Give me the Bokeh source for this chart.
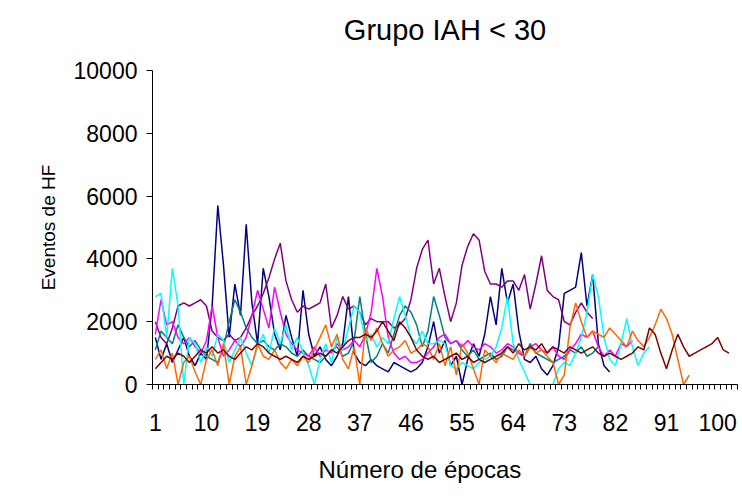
from bokeh.plotting import figure
from bokeh.models import Range1d, FixedTicker, Title
from bokeh.embed import file_html
from bokeh.resources import INLINE

# ---- data ----
navy = [1500, 800, 1300, 700, 1100, 1500, 900, 600, 1000, 800, 2500, 5700, 3800, 1500, 3200, 2200,
        5100, 2600, 1300, 3700, 2800, 1600, 1100, 2200, 1500, 900, 3000, 1600, 900, 1200, 800, 600,
        900, 1300, 2800, 1000, 700, 600, 800, 600, 500, 400, 700, 600, 500, 400, 500, 700, 1200,
        2000, 1000, 1400, 600, 900, 0, 800, 1300, 900, 1600, 2800, 1900, 3700, 2600, 3200, 1700,
        800, 700, 900, 500, 300, 600, 1200, 2900, 3000, 3100, 4200, 2500, 3500, 1300, 600, 400]

purple = [2000, 1500, 1300, 1800, 2500, 2600, 2500, 2600, 2700, 2500, 1700, 1500, 1400, 1600,
          1400, 1500, 1800, 2200, 2500, 2900, 3400, 4000, 4500, 3300, 2700, 2300, 2500, 2400,
          2500, 2600, 3200, 1800, 2200, 2800, 2400, 2500, 2300, 1900, 2100, 2000, 2000, 2000,
          1800, 1900, 2100, 2700, 3700, 4300, 4600, 3200, 3700, 2800, 2000, 2600, 3800, 4400,
          4800, 4600, 3600, 3200, 3200, 3100, 3300, 3300, 3000, 3500, 2400, 3200, 4100, 3000,
          2800, 2700, 2000, 1900, 2300, 2600, 2300, 2100]

cyan = [2800, 2900, 1500, 3700, 2500, 0, 1500, 1300, 700, 1200, 900, 1600, 1400, 700, 1100, 1500,
        1000, 600, 1200, 1600, 1000, 1800, 1300, 1900, 1100, 1500, 1000, 600, 0, 800, 1300, 700,
        1500, 1100, 1800, 2500, 2300, 1400, 1600, 1200, 1500, 1300, 2100, 2800, 2200, 1500, 1300,
        1700, 1300, 1300, 1400, 1300, 600, 500, 700, 600, 500, 700, 800, 900, 1200, 1800, 2800,
        1300, 800, 400, 0, 0, 0, 0, 0, 500, 700, 600, 1000, 1500, 2300, 3500, 2800, 1500, 800, 600,
        1300, 2100, 1200, 600, 1000, 1200]

teal = [1100, 1700, 1500, 1300, 1900, 1500, 1200, 1400, 1100, 900, 800, 700, 1200, 2000, 2700,
        2300, 1800, 1500, 1300, 1400, 1200, 1100, 1300, 1200, 1000, 900, 1100, 900, 800, 700, 900,
        1100, 1200, 900, 1000, 1400, 2800, 1600, 700, 900, 1300, 1000, 1600, 2200, 2500, 2300,
        1900, 1200, 1700, 2800, 2200, 1500, 1300, 1400, 1100, 900, 1100, 800, 900, 1000, 800, 900,
        1200, 1100, 1000, 900, 1300, 1000, 900, 800, 700, 800, 900, 1100, 1000, 1200, 900, 1000,
        1200]

magenta = [1600, 2700, 1900, 2000, 1500, 1300, 1500, 1200, 1000, 1400, 2500, 1500, 900, 1100,
           1400, 1200, 1500, 2200, 3000, 2400, 1800, 3100, 2300, 1600, 1300, 1100, 1000, 900,
           1200, 900, 1100, 1000, 1300, 1100, 1200, 1400, 1200, 1600, 2300, 3700, 2800, 1500,
           1000, 800, 900, 700, 700, 800, 1000, 1200, 1500, 1600, 1300, 1400, 1200, 1400, 1200,
           1100, 1300, 1200, 1000, 1100, 1300, 1200, 1000, 900, 1200, 1300, 1100, 1000, 1200, 900,
           800, 1100, 1300, 1600, 1500, 1700, 1200, 900, 1100, 900, 1300, 1200, 1400]

orange = [800, 1100, 500, 1000, 0, 700, 900, 400, 0, 800, 1100, 600, 1300, 0, 900, 1200, 0, 600,
          1300, 900, 800, 1100, 700, 500, 800, 600, 900, 700, 1100, 1500, 1900, 1200, 1600, 800,
          500, 1200, 0, 1800, 1400, 1800, 1300, 900, 1100, 1200, 1400, 1000, 1100, 1300, 1200,
          800, 1300, 600, 1200, 300, 1300, 1000, 500, 0, 1100, 900, 700, 1000, 900, 800, 1100, 900,
          1200, 1000, 1100, 900, 700, 0, 300, 1800, 2600, 2000, 1500, 1700, 1600, 1500, 1800, 1600,
          1400, 1200, 1700, 1400, 1200, 1500, 1900, 2400, 2100, 1600, 800, 0, 300]

maroon = [500, 700, 900, 800, 1000, 900, 700, 900, 1100, 1000, 1200, 1000, 1100, 900, 800, 1000,
          1200, 1100, 1300, 1200, 1000, 900, 800, 900, 800, 700, 900, 800, 900, 1000, 900, 1100,
          1000, 1200, 1400, 1500, 1500, 1600, 1500, 1700, 2000, 1700, 1400, 2000, 1800, 1500, 1100,
          900, 800, 900, 700, 800, 900, 1000, 800, 900, 700, 800, 700, 800, 900, 1000, 1200, 1000,
          1300, 1100, 1200, 1100, 1300, 1000, 1200, 1100, 1000, 1200, 1100, 1000, 1100, 1200, 1000,
          900, 1000, 900, 800, 900, 1000, 1200, 1100, 1800, 1600, 1000, 500, 1100, 1600, 1200, 900,
          1000, 1100, 1200, 1300, 1500, 1100, 1000]

series = [
    (navy, "#000080"),
    (purple, "#800080"),
    (teal, "#008080"),
    (magenta, "#FF00FF"),
    (cyan, "#00FFFF"),
    (orange, "#FF6600"),
    (maroon, "#800000"),
]

x_labels = [1, 10, 19, 28, 37, 46, 55, 64, 73, 82, 91, 100]
y_ticks = [0, 2000, 4000, 6000, 8000, 10000]
n_cat = 103

FONT = "Liberation Sans"

p = figure(width=742, height=496, output_backend="svg", toolbar_location=None,
           x_range=Range1d(0.5, n_cat + 0.5), y_range=Range1d(0, 10000),
           min_border_left=152, min_border_right=5, min_border_top=70, min_border_bottom=112,
           title="Grupo IAH < 30")
p.outline_line_color = None
p.grid.visible = False
p.background_fill_color = "white"
p.border_fill_color = "white"

p.title.align = "center"
p.title.text_font = FONT
p.title.text_font_size = "29px"
p.title.text_font_style = "normal"
p.title.text_color = "black"
p.title.standoff = 0
p.title.padding = (0, 0, 0, 25)

for vals, col in series:
    xs = list(range(1, len(vals) + 1))
    p.line(xs, vals, line_color=col, line_width=1.5)

# y axis
ya = p.yaxis[0]
ya.ticker = FixedTicker(ticks=y_ticks)
ya.major_tick_out = 6
ya.major_tick_in = 0
ya.minor_tick_out = 0
ya.minor_tick_in = 0
ya.major_label_standoff = 9
ya.major_label_text_font = FONT
ya.major_label_text_font_size = "23px"
ya.major_label_text_color = "black"
ya.axis_label = "Eventos de HF"
ya.axis_label_text_font = FONT
ya.axis_label_text_font_size = "19px"
ya.axis_label_text_font_style = "normal"
ya.axis_label_text_color = "black"
ya.axis_label_standoff = 12
ya.axis_line_color = "black"

# x axis
xa = p.xaxis[0]
xa.ticker = FixedTicker(ticks=x_labels, minor_ticks=[k + 0.5 for k in range(0, n_cat + 1)])
xa.major_tick_out = 0
xa.major_tick_in = 0
xa.minor_tick_out = 5
xa.minor_tick_in = 0
xa.major_label_standoff = 24
xa.major_label_text_font = FONT
xa.major_label_text_font_size = "23px"
xa.major_label_text_color = "black"
xa.axis_line_color = "black"

# x axis title, placed left of centre as in the reference
xtitle = Title(text="Número de épocas", align="left", offset=166, standoff=0,
               padding=(0, 0, 20, 0),
               text_font=FONT, text_font_size="24px", text_font_style="normal",
               text_color="black")
p.add_layout(xtitle, "below")

open("out.html", "w").write(file_html(p, INLINE))
